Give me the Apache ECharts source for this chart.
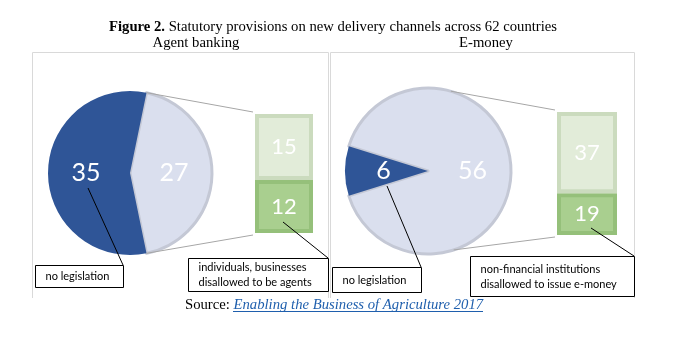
<!DOCTYPE html>
<html><head><meta charset="utf-8">
<script src="https://cdn.jsdelivr.net/npm/echarts@6/dist/echarts.min.js"></script>
<style>html,body{margin:0;padding:0;background:#fff}#c{width:681px;height:348px}</style>
</head><body><div id="c"></div>
<script>
// ---- data ----
const panelTitles = ['Agent banking', 'E-money'];
const pieCategories = ['provisions', 'no legislation'];
const agentPie = [27, 35];
const emoneyPie = [56, 6];
const barCategories = ['other', 'disallowed'];
const agentBar = [15, 12];   // top block, bottom block
const emoneyBar = [37, 19];
const noteTexts = ['no legislation', 'individuals, businesses\ndisallowed to be agents',
                   'no legislation', 'non-financial institutions\ndisallowed to issue e-money'];

// ---- layout ----
const F = 'Liberation Serif';
const S = 'Lato, "Open Sans", sans-serif';
const DARK = '#2f5597', LIGHT = '#dadfee', LIGHTB = '#c4c8d5';
const G1 = '#e2ecd9', G1B = '#cbdbbe', G2 = '#a9cf8f', G2B = '#95c07a';
const pies = [
  {c: [130, 173], r: 82, data: agentPie, conn: null},
  {c: [428, 171], r: 83, data: emoneyPie, conn: [74, -72]}
];
const grids = [
  {left: 255, top: 114, width: 58, height: 119},
  {left: 557, top: 112, width: 60, height: 123}
];

const chart = echarts.init(document.getElementById('c'), null, {renderer: 'canvas'});

function pieSeries(p) {
  const sum = p.data[0] + p.data[1];
  const start = p.data[0] / sum * 180;
  return {
    type: 'pie', center: p.c, radius: p.r, startAngle: start, clockwise: true,
    silent: true, animation: false,
    label: {show: true, position: 'inside', color: '#fff', fontSize: 25, fontFamily: S, formatter: '{c}'},
    labelLine: {show: false},
    data: [
      {name: pieCategories[0], value: p.data[0], itemStyle: {color: LIGHT, borderColor: LIGHTB, borderWidth: 3}},
      {name: pieCategories[1], value: p.data[1], itemStyle: {color: DARK, borderWidth: 0}}
    ]
  };
}
function barSeries(vals, gi) {
  const lab = {show: true, position: 'inside', color: '#fff', fontSize: 22, fontFamily: S};
  return [
    {type: 'bar', name: barCategories[1], xAxisIndex: gi, yAxisIndex: gi, stack: 's' + gi, barWidth: '100%',
     data: [vals[1]], label: lab, silent: true, itemStyle: {color: G2, borderColor: G2B, borderWidth: 4}},
    {type: 'bar', name: barCategories[0], xAxisIndex: gi, yAxisIndex: gi, stack: 's' + gi, barWidth: '100%',
     data: [vals[0]], label: lab, silent: true, itemStyle: {color: G1, borderColor: G1B, borderWidth: 4}}
  ];
}

const graphics = [];
function line(x1, y1, x2, y2, color, w, z) {
  graphics.push({type: 'line', shape: {x1, y1, x2, y2}, style: {stroke: color, lineWidth: w || 1}, z: z || 5, silent: true});
}
// panels (no bottom edge visible)
graphics.push({type: 'polyline', shape: {points: [[32.5, 298], [32.5, 52.5], [328.5, 52.5], [328.5, 298]]}, style: {fill: null, stroke: '#d9d9d9', lineWidth: 1}, z: 0});
graphics.push({type: 'polyline', shape: {points: [[330.5, 298], [330.5, 52.5], [634.5, 52.5], [634.5, 298]]}, style: {fill: null, stroke: '#d9d9d9', lineWidth: 1}, z: 0});

// connector lines pie -> bar
pies.forEach((p, i) => {
  const sum = p.data[0] + p.data[1];
  const a = p.conn || [p.data[0] / sum * 180, -p.data[0] / sum * 180];
  const g = grids[i];
  const tx = p.c[0] + p.r * Math.cos(a[0] * Math.PI / 180), ty = p.c[1] - p.r * Math.sin(a[0] * Math.PI / 180);
  const bx = p.c[0] + p.r * Math.cos(a[1] * Math.PI / 180), by = p.c[1] - p.r * Math.sin(a[1] * Math.PI / 180);
  line(tx, ty, g.left - 2, g.top - 2, '#a6a6a6', 1, 0);
  line(bx, by, g.left - 2, g.top + g.height + 2, '#a6a6a6', 1, 0);
});

// annotation boxes
const boxes = [
  {x: 35.5, y: 265.5, w: 88, h: 22, from: [88, 188], to: [123, 265]},
  {x: 188.5, y: 258.5, w: 140, h: 33, from: [283, 222], to: [328, 258]},
  {x: 332.5, y: 267.5, w: 89, h: 25, from: [387, 186], to: [421, 267]},
  {x: 470.5, y: 256.5, w: 164, h: 40, from: [591, 228], to: [634, 256]}
];
boxes.forEach((b, i) => {
  graphics.push({type: 'rect', shape: {x: b.x, y: b.y, width: b.w, height: b.h}, style: {fill: '#fff', stroke: '#000', lineWidth: 1}, z: 20});
  graphics.push({type: 'text', x: b.x + 10, y: b.y + b.h / 2, z: 21,
    style: {text: noteTexts[i], font: '11px ' + S, fill: '#000', verticalAlign: 'middle', lineHeight: 15}});
  line(b.from[0], b.from[1], b.to[0], b.to[1], '#000', 1, 22);
});

// titles
graphics.push({type: 'text', x: 333, y: 27, z: 30, style: {
  text: '{b|Figure 2.}{n| Statutory provisions on new delivery channels across 62 countries}',
  align: 'center', verticalAlign: 'middle',
  rich: {b: {font: 'bold 14.7px ' + F, fill: '#000'}, n: {font: '14.7px ' + F, fill: '#000'}}}});
graphics.push({type: 'text', x: 196, y: 43, z: 30, style: {text: panelTitles[0], font: '14.7px ' + F, fill: '#000', align: 'center', verticalAlign: 'middle'}});
graphics.push({type: 'text', x: 486, y: 43, z: 30, style: {text: panelTitles[1], font: '14.7px ' + F, fill: '#000', align: 'center', verticalAlign: 'middle'}});
graphics.push({type: 'text', x: 185, y: 305, z: 30, style: {
  text: '{n|Source: }{l|Enabling the Business of Agriculture 2017}', verticalAlign: 'middle',
  rich: {n: {font: '14.7px ' + F, fill: '#000'}, l: {font: 'italic 14.7px ' + F, fill: '#1f5fad'}}}});
line(233, 311.5, 483, 311.5, '#1f5fad', 1, 30);

chart.setOption({
  animation: false,
  grid: grids.map(g => Object.assign({containLabel: false}, g)),
  xAxis: grids.map((g, i) => ({type: 'category', gridIndex: i, data: ['x'], show: false})),
  yAxis: [
    {type: 'value', gridIndex: 0, min: 0, max: agentBar[0] + agentBar[1], show: false},
    {type: 'value', gridIndex: 1, min: 0, max: emoneyBar[0] + emoneyBar[1], show: false}
  ],
  series: [pieSeries(pies[0]), pieSeries(pies[1])].concat(barSeries(agentBar, 0), barSeries(emoneyBar, 1)),
  graphic: graphics
});
</script></body></html>
